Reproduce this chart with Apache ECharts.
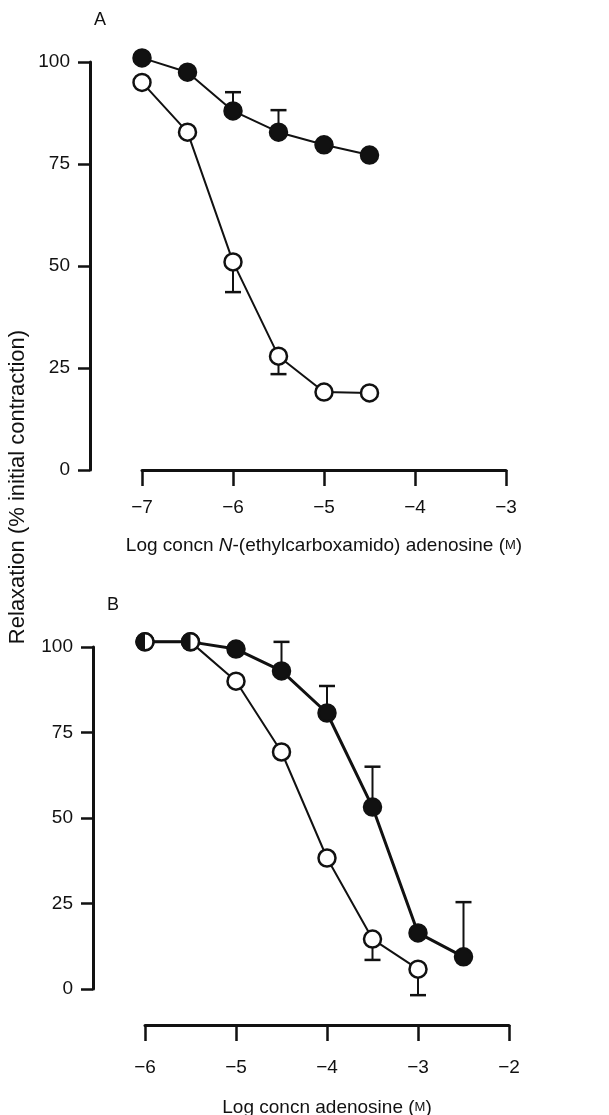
<!DOCTYPE html>
<html>
<head>
<meta charset="utf-8">
<script src="https://cdn.jsdelivr.net/npm/echarts@6/dist/echarts.min.js"></script>
<style>
  html, body { margin: 0; padding: 0; background: #fff; }
  #chart { width: 609px; height: 1115px; }
</style>
</head>
<body>
<div id="chart"></div>
<script>
// Panel A: N-(ethylcarboxamido)adenosine
const xA = [-7, -6.5, -6, -5.5, -5, -4.5]
const aFilled = [101, 97.5, 88, 82.8, 79.7, 77.2]
const aFilledErr = [0, 0, 4.6, 5.4, 0, 0]
const aOpen = [95, 82.8, 51, 27.9, 19.1, 18.9]
const aOpenErr = [0, 0, 7.4, 4.4, 0, 0]

// Panel B: adenosine
const xB = [-6, -5.5, -5, -4.5, -4, -3.5, -3, -2.5]
const bFilled = [101.5, 101.5, 99.4, 93, 80.7, 53.2, 16.4, 9.4]
const bFilledErr = [0, 0, 0, 8.5, 7.9, 11.8, 0, 16]
const bOpen = [101.5, 101.5, 90, 69.3, 38.3, 14.6, 5.8]
const bOpenErr = [0, 0, 0, 0, 0, 6.1, 7.6]
const bShared = [-6, -5.5]

const font = 'Liberation Sans, Arial, sans-serif'
const ink = '#111'

const pairs = (xs, ys) => ys.map((y, i) => [xs[i], y])
// error bars: [x, mean, end]; dir +1 up, -1 down
const errs = (xs, ys, es, dir) =>
  ys.map((y, i) => [xs[i], y, y + dir * es[i]]).filter((d, i) => es[i] > 0)

const chart = echarts.init(document.getElementById('chart'))

const minus = (v) => String(v).replace('-', '\u2212')

const xAxisBase = {
  type: 'value',
  interval: 1,
  axisLine: { onZero: false, lineStyle: { color: ink, width: 3 } },
  axisTick: { length: 16, lineStyle: { color: ink, width: 2.5 } },
  axisLabel: { color: ink, fontSize: 19, fontFamily: font, margin: 28, formatter: minus },
  splitLine: { show: false },
  nameLocation: 'middle',
  nameTextStyle: {
    color: ink,
    fontFamily: font,
    rich: {
      a: { fontSize: 19, fontFamily: font, color: ink },
      i: { fontSize: 19, fontFamily: font, color: ink, fontStyle: 'italic' },
      s: { fontSize: 13, fontFamily: font, color: ink },
    },
  },
}

const yAxisBase = {
  type: 'value',
  min: 0,
  max: 100,
  interval: 25,
  offset: 52,
  axisLine: { show: true, onZero: false, lineStyle: { color: ink, width: 3 } },
  axisTick: { show: true, length: 12, lineStyle: { color: ink, width: 2.5 } },
  axisLabel: { color: ink, fontSize: 19, fontFamily: font, margin: 20 },
  splitLine: { show: false },
}

const errSeries = (data, xi) => ({
  type: 'custom',
  xAxisIndex: xi,
  yAxisIndex: xi,
  z: 1,
  data: data,
  renderItem: (params, api) => {
    const p0 = api.coord([api.value(0), api.value(1)])
    const p1 = api.coord([api.value(0), api.value(2)])
    return {
      type: 'group',
      children: [
        { type: 'line', shape: { x1: p0[0], y1: p0[1], x2: p1[0], y2: p1[1] }, style: { stroke: ink, lineWidth: 2 } },
        { type: 'line', shape: { x1: p1[0] - 8, y1: p1[1], x2: p1[0] + 8, y2: p1[1] }, style: { stroke: ink, lineWidth: 2.5 } },
      ],
    }
  },
})

const lineSeries = (data, xi, filled, z, width) => ({
  type: 'line',
  xAxisIndex: xi,
  yAxisIndex: xi,
  data: data,
  z: z,
  symbol: 'circle',
  symbolSize: 17,
  clip: false,
  lineStyle: { color: ink, width: width },
  itemStyle: { color: filled ? ink : '#fff', borderColor: ink, borderWidth: 2.5 },
  emphasis: { disabled: true },
})

const option = {
  animation: false,
  backgroundColor: '#fff',
  grid: [
    { left: 142, right: 103, top: 62, bottom: 645, outerBoundsMode: 'none' },
    { left: 145, right: 100, top: 647, bottom: 126, outerBoundsMode: 'none' },
  ],
  xAxis: [
    Object.assign({}, xAxisBase, {
      gridIndex: 0, min: -7, max: -3, nameGap: 66,
      name: '{a|Log concn }{i|N}{a|-(ethylcarboxamido) adenosine (}{s|M}{a|)}',
    }),
    Object.assign({}, xAxisBase, {
      gridIndex: 1, min: -6, max: -2, offset: 36, nameGap: 73,
      axisLabel: Object.assign({}, xAxisBase.axisLabel, { margin: 33 }),
      name: '{a|Log concn adenosine (}{s|M}{a|)}',
    }),
  ],
  yAxis: [
    Object.assign({}, yAxisBase, { gridIndex: 0 }),
    Object.assign({}, yAxisBase, { gridIndex: 1 }),
  ],
  graphic: [
    { type: 'text', x: 100, y: 20, style: { text: 'A', fontSize: 18, fontFamily: font, fill: ink, align: 'center', verticalAlign: 'middle' } },
    { type: 'text', x: 113, y: 605, style: { text: 'B', fontSize: 18, fontFamily: font, fill: ink, align: 'center', verticalAlign: 'middle' } },
    {
      type: 'text', x: 18, y: 487, rotation: Math.PI / 2,
      style: { text: 'Relaxation (% initial contraction)', fontSize: 22, fontFamily: font, fill: ink, align: 'center', verticalAlign: 'middle' },
    },
  ],
  series: [
    errSeries(errs(xA, aFilled, aFilledErr, 1), 0),
    errSeries(errs(xA, aOpen, aOpenErr, -1), 0),
    lineSeries(pairs(xA, aFilled), 0, true, 2, 2),
    lineSeries(pairs(xA, aOpen), 0, false, 3, 2),

    errSeries(errs(xB, bFilled, bFilledErr, 1), 1),
    errSeries(errs(xB, bOpen, bOpenErr, -1), 1),
    lineSeries(pairs(xB, bFilled), 1, true, 2, 3),
    lineSeries(pairs(xB, bOpen), 1, false, 3, 2),
    {
      // shared points: left part filled (both groups coincide)
      type: 'custom',
      xAxisIndex: 1,
      yAxisIndex: 1,
      z: 10,
      data: bShared.map((x) => [x, bFilled[xB.indexOf(x)]]),
      renderItem: (params, api) => {
        const p = api.coord([api.value(0), api.value(1)])
        return {
          type: 'sector',
          shape: { cx: p[0], cy: p[1], r0: 0, r: 8.5, startAngle: Math.PI / 2, endAngle: Math.PI * 1.5, clockwise: true },
          style: { fill: ink },
        }
      },
    },
  ],
}

chart.setOption(option)
</script>
</body>
</html>
